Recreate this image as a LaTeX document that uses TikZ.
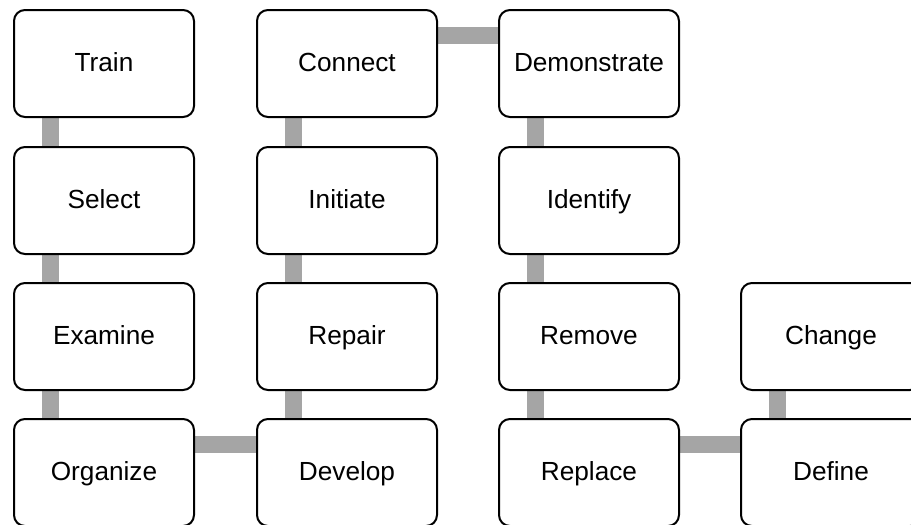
\documentclass[tikz,border=0pt]{standalone}
\usepackage{fontspec}
\setmainfont{Liberation Sans}
\usetikzlibrary{backgrounds,calc}
\definecolor{linkgray}{HTML}{A5A5A5}
\begin{document}
\begin{tikzpicture}[x=1pt,y=-1pt,
  stepbox/.style={draw=black,line width=2pt,fill=white,rounded corners=11pt,
    minimum width=180pt,minimum height=107pt,inner sep=0pt,
    text height=21pt,text depth=5pt,
    font=\fontsize{26.2}{30}\selectfont},
  link/.style={draw=linkgray,line width=17pt}]
\useasboundingbox (0,0) rectangle (911,525);
\node[stepbox] (train) at (104,63.5) {Train};
\node[stepbox] (select) at (104,200.5) {Select};
\node[stepbox] (examine) at (104,336.5) {Examine};
\node[stepbox] (organize) at (104,472.5) {Organize};
\node[stepbox] (connect) at (347,63.5) {Connect};
\node[stepbox] (initiate) at (347,200.5) {Initiate};
\node[stepbox] (repair) at (347,336.5) {Repair};
\node[stepbox] (develop) at (347,472.5) {Develop};
\node[stepbox] (demonstrate) at (589,63.5) {Demonstrate};
\node[stepbox] (identify) at (589,200.5) {Identify};
\node[stepbox] (remove) at (589,336.5) {Remove};
\node[stepbox] (replace) at (589,472.5) {Replace};
\node[stepbox] (change) at (831,336.5) {Change};
\node[stepbox] (define) at (831,472.5) {Define};
\begin{scope}[on background layer]
\fill[white] (0,0) rectangle (911,525);
\foreach \a/\b in {train/select,select/examine,examine/organize,
  develop/repair,repair/initiate,initiate/connect,
  demonstrate/identify,identify/remove,remove/replace,define/change}{
  \path[link] let \p1=(\a.center), \p2=(\b.center) in
    (\x1-53.5,\y1) -- (\x2-53.5,\y2);
}
\foreach \a/\b in {organize/develop,connect/demonstrate,replace/define}{
  \path[link] let \p1=(\a.center), \p2=(\b.center) in
    (\x1,\y1+28) -- (\x2,\y2+28);
}
\end{scope}
\end{tikzpicture}
\end{document}
